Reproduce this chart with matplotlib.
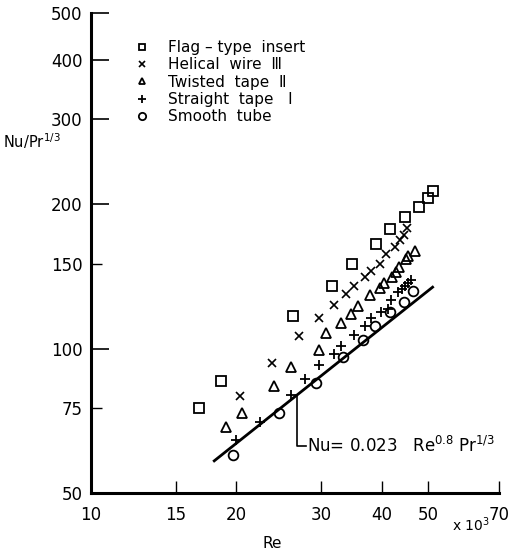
import matplotlib
matplotlib.use("Agg")
import matplotlib.pyplot as plt
import numpy as np

# Re in units of 10^3, values of Nu/Pr^(1/3)
flag_re = [16.7, 18.6, 26.2, 31.6, 34.7, 39.0, 41.7, 44.7, 47.8, 50.0, 51.1]
flag_nu = [75.1, 85.6, 117, 135, 150, 165, 177, 188, 197, 206, 213]

helical_re = [20.4, 23.7, 27.0, 29.6, 31.8, 33.7, 35.0, 36.9, 38.1, 39.7, 40.9, 42.6, 43.6, 44.5, 45.2]
helical_nu = [79.7, 93.4, 106, 116, 123, 130, 135, 141, 145, 150, 157, 163, 168, 172, 178]

twisted_re = [19.0, 20.5, 23.9, 26.0, 29.6, 30.7, 33.0, 34.5, 35.8, 37.8, 39.7, 40.4, 42.1, 42.9, 43.4, 44.9, 45.3, 46.8]
twisted_nu = [68.5, 73.4, 83.4, 91.6, 99.3, 107.6, 112.8, 118, 122.7, 129, 133.7, 136.6, 140.6, 144.6, 147.9, 153.8, 155.6, 160]

straight_re = [20.0, 22.4, 25.9, 27.7, 29.7, 31.8, 33.0, 35.1, 36.9, 38.0, 39.8, 41.3, 41.9, 43.3, 44.0, 44.7, 45.4, 46.1]
straight_nu = [64.6, 70.4, 80.0, 86.4, 92.4, 97.2, 101.2, 106.5, 111.4, 116, 118.9, 121.1, 126.2, 131.1, 132.9, 135, 136.7, 138.9]

smooth_re = [19.65, 24.5, 29.2, 33.2, 36.6, 38.7, 41.7, 44.5, 46.5]
smooth_nu = [60.0, 73.5, 84.7, 95.9, 104.2, 111.4, 119.2, 124.7, 131.5]

# Dittus-Boelter line range
line_re = [18, 51]
leader_re = 26.7

x_ticks = [10, 15, 20, 30, 40, 50, 70]
y_major = [50, 100, 200, 300, 400, 500]
y_minor = [75, 150]

plt.rcParams["font.family"] = ["DejaVu Sans"]

fig = plt.figure(figsize=(5.11, 5.54), dpi=100)
ax = fig.add_axes([91 / 511, 61 / 554, 408 / 511, 480 / 554])
ax.set_xscale("log")
ax.set_yscale("log")
ax.set_xlim(10, 70)
ax.set_ylim(50, 500)

k = "#000000"
ax.plot(flag_re, flag_nu, ls="none", marker="s", ms=6.5, mfc="none", mec=k, mew=1.3,
        label="Flag \u2013 type  insert")
ax.plot(helical_re, helical_nu, ls="none", marker="x", ms=6, mec=k, mew=1.2,
        label="Helical  wire  \u2162")
ax.plot(twisted_re, twisted_nu, ls="none", marker="^", ms=6.5, mfc="none", mec=k, mew=1.3,
        label="Twisted  tape  \u2161")
ax.plot(straight_re, straight_nu, ls="none", marker="+", ms=7, mec=k, mew=1.3,
        label="Straight  tape   \u2160")
ax.plot(smooth_re, smooth_nu, ls="none", marker="o", ms=7, mfc="none", mec=k, mew=1.3,
        label="Smooth  tube")

re_line = np.array(line_re)
ax.plot(re_line, 0.023 * (re_line * 1e3) ** 0.8, color=k, lw=2)

# leader from the line to the equation label
y_at = 0.023 * (leader_re * 1e3) ** 0.8
ax.plot([leader_re, leader_re, 27.9], [y_at, 62.7, 62.7], color=k, lw=1.2)
ax.text(28.0, 62.7, "Nu= 0.023   Re$^{0.8}$ Pr$^{1/3}$", fontsize=12, va="center", ha="left")

for s in ["top", "right"]:
    ax.spines[s].set_visible(False)
for s in ["left", "bottom"]:
    ax.spines[s].set_linewidth(2.2)

ax.minorticks_off()
ax.set_xticks(x_ticks)
ax.set_xticklabels([str(v) for v in x_ticks])
ax.set_yticks(y_major)
ax.set_yticklabels([str(v) for v in y_major])
ax.set_yticks(y_minor, minor=True)
ax.set_yticklabels([str(v) for v in y_minor], minor=True)
ax.tick_params(axis="x", which="both", direction="in", length=9, width=1, labelsize=12, pad=9)
ax.tick_params(axis="y", which="major", direction="in", length=13, width=1.2, labelsize=12, pad=6)
ax.tick_params(axis="y", which="minor", direction="in", length=8, width=1, labelsize=12, pad=6)

fig.text(490 / 511, 1 - 525 / 554, "x 10$^3$", fontsize=10, ha="right", va="center")
fig.text(272 / 511, 1 - 543 / 554, "Re", fontsize=11, ha="center", va="center")
fig.text(3 / 511, 1 - 141 / 554, "Nu/Pr$^{1/3}$", fontsize=10.5, ha="left", va="center")

ax.legend(loc="upper left", bbox_to_anchor=(134 / 511, 1 - 40 / 554), bbox_transform=fig.transFigure,
          frameon=False, fontsize=11, handlelength=1.0, handletextpad=1.2, labelspacing=0.15,
          borderaxespad=0, borderpad=0, markerscale=0.75)

fig.savefig("out.png", dpi=100)
